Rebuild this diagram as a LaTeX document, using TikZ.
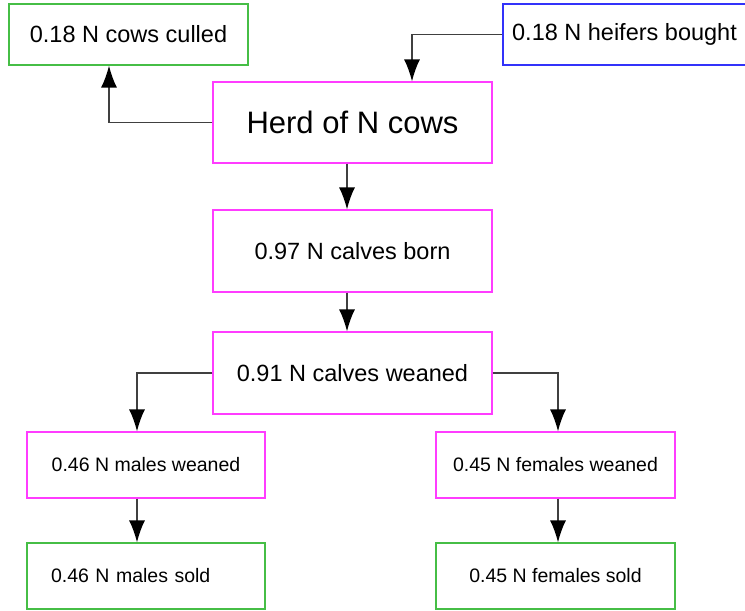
\documentclass[tikz,border=0pt]{standalone}
\usepackage{fontspec}
\setmainfont{Liberation Sans}
\usetikzlibrary{arrows.meta}
\definecolor{herdmag}{RGB}{255,60,255}
\definecolor{outgreen}{RGB}{70,190,70}
\definecolor{inblue}{RGB}{50,50,250}
\newcommand{\tete}{N}
\newcommand{\flowdraw}[3]{\draw[flow] ([xshift=#3]#1.south) -- ([xshift=#3]#2.north)}
\tikzset{
  boite/.style={draw, line width=0.6pt, minimum width=#1, inner sep=0pt},
  grande/.style={font=\fontsize{11.75}{14}\selectfont},
  petite/.style={font=\fontsize{9.75}{12}\selectfont},
  flow/.style={draw=black!75, line width=0.7pt, -{Latex[length=11pt,width=8pt,black]}}
}

\begin{document}
\begin{tikzpicture}[x=0.5pt, y=-0.5pt]
                    \useasboundingbox (0,0) rectangle (745,611);

                    \node[boite=119.5pt, draw=outgreen, minimum height=30.5pt, grande] (culled) at (128.5,34.5) {0.18 \tete{} cows culled};
                    \node[boite=121.5pt, draw=inblue, minimum height=30.5pt, grande] (bought) at (624.5,34.5) {0.18 \tete{} heifers bought};

                    \node[boite=139.5pt, draw=herdmag, minimum height=40.5pt, font=\fontsize{15.5}{18}\selectfont] (herd) at (352.5,122.5) {Herd of \tete{} cows};
                    \node[boite=139.5pt, draw=herdmag, minimum height=41pt, grande] (born) at (352.5,251) {0.97 \tete{} calves born};
                    \node[boite=139.5pt, draw=herdmag, minimum height=41pt, grande] (weaned) at (352.5,373) {0.91 \tete{} calves weaned};

                    \node[boite=119pt, draw=herdmag, minimum height=33pt, petite] (malew) at (146,465) {0.46 \tete{} males weaned};
                    \node[boite=119.5pt, draw=herdmag, minimum height=33pt, petite] (femw) at (555.5,465) {0.45 \tete{} females weaned};
                    \node[draw=outgreen, line width=0.6pt, inner xsep=12pt, inner ysep=0pt, text width=95pt, minimum height=33pt, petite] (males) at (146,576) {0.46 \tete{} males sold};
                    \node[boite=119.5pt, draw=outgreen, minimum height=33pt, petite] (fems) at (555.5,576) {0.45 \tete{} females sold};

                    \draw[flow] (herd.west) -| ([xshift=-9.75pt]culled.south);
                    \draw[flow] (bought.west) -| ([xshift=29.75pt]herd.north);

                    \flowdraw{herd}{born}{-2.75pt};
                    \flowdraw{born}{weaned}{-2.75pt};

                    \draw[flow] (weaned.west) -| ([xshift=-4.5pt]malew.north);
                    \draw[flow] (weaned.east) -| ([xshift=1.25pt]femw.north);

                    \flowdraw{malew}{males}{-4.5pt};
                    \flowdraw{femw}{fems}{1.25pt};
                \end{tikzpicture}
\end{document}
